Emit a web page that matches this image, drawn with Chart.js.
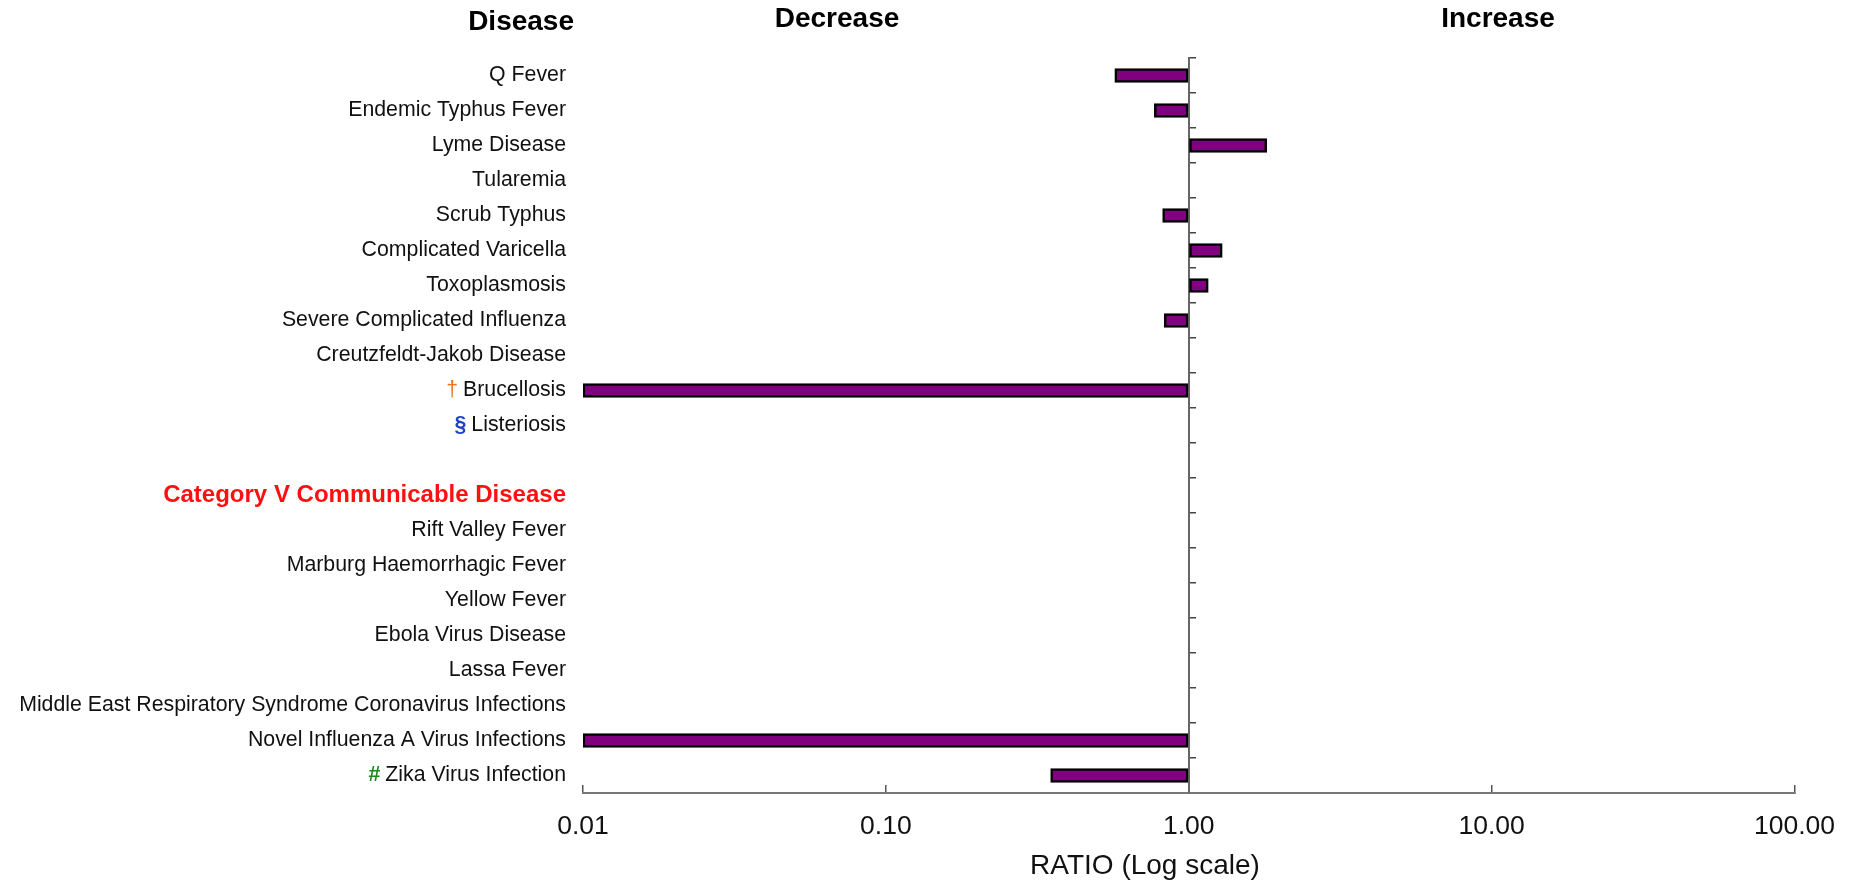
<!DOCTYPE html>
<html>
<head>
<meta charset="utf-8">
<title>Disease ratio (log scale)</title>
<script src="https://cdn.jsdelivr.net/npm/chart.js@4.4.1/dist/chart.umd.min.js"></script>
<style>
  html, body { margin: 0; padding: 0; background: #fff; }
  canvas { display: block; }
</style>
</head>
<body>
<canvas id="barChart" width="1861" height="890"></canvas>
<script>
'use strict';

// rows of the chart, top to bottom ('' is the blank spacer row)
var diseases = [
  'Q Fever',
  'Endemic Typhus Fever',
  'Lyme Disease',
  'Tularemia',
  'Scrub Typhus',
  'Complicated Varicella',
  'Toxoplasmosis',
  'Severe Complicated Influenza',
  'Creutzfeldt-Jakob Disease',
  'Brucellosis',
  'Listeriosis',
  '',
  'Category V Communicable Disease',
  'Rift Valley Fever',
  'Marburg Haemorrhagic Fever',
  'Yellow Fever',
  'Ebola Virus Disease',
  'Lassa Fever',
  'Middle East Respiratory Syndrome Coronavirus Infections',
  'Novel Influenza A Virus Infections',
  'Zika Virus Infection'
];

// footnote marks drawn in front of some labels
var footnotes = ['', '', '', '', '', '', '', '', '', '\u2020', '\u00a7', '', '', '', '', '', '', '', '', '', '#'];

// ratio values (null = no bar). bars start at 1.00
var ratios = [0.57, 0.77, 1.81, null, 0.82, 1.29, 1.16, 0.83, null, 0.01, null,
  null, null, null, null, null, null, null, null, 0.01, 0.35];

var ratioTicks = [0.01, 0.1, 1, 10, 100];

var headers = ['Disease', 'Decrease', 'Increase'];
var axisTitle = 'RATIO (Log scale)';
var groupHeader = 'Category V Communicable Disease';

var FONT = "'Liberation Sans', Arial, sans-serif";
var markStyles = {
  '\u2020': { color: '#e8761e', weight: '' },
  '\u00a7': { color: '#1f44c9', weight: 'bold ' },
  '#': { color: '#1b8a1b', weight: 'bold ' }
};
var labelPadding = 17;
var labelSize = 21.3;

Chart.defaults.font.family = FONT;
Chart.defaults.color = '#111';

var textPlugin = {
  id: 'textPlugin',
  afterDraw: function (chart) {
    var ctx = chart.ctx;
    var y = chart.scales.y;
    var labelRight = y.right - labelPadding;

    ctx.save();
    ctx.fillStyle = '#000';
    ctx.textBaseline = 'middle';
    ctx.font = 'bold 28px ' + FONT;
    ctx.textAlign = 'right';
    ctx.fillText(headers[0], 574, 22);
    ctx.textAlign = 'center';
    ctx.fillText(headers[1], 837, 19);
    ctx.fillText(headers[2], 1498, 19);

    ctx.fillStyle = '#111';
    ctx.font = '28px ' + FONT;
    ctx.fillText(axisTitle, 1145, 866);

    // the coloured marks in front of a few labels
    footnotes.forEach(function (mark, i) {
      if (!mark) return;
      ctx.font = labelSize + 'px ' + FONT;
      var w = ctx.measureText(diseases[i]).width;
      ctx.font = markStyles[mark].weight + labelSize + 'px ' + FONT;
      ctx.fillStyle = markStyles[mark].color;
      ctx.textAlign = 'right';
      ctx.fillText(mark, labelRight - w - 5, y.getPixelForTick(i));
    });
    ctx.restore();
  }
};

var ctx = document.getElementById('barChart');

var data = {
  labels: diseases,
  datasets: [
    {
      data: ratios,
      base: 1,
      backgroundColor: '#800080',
      borderColor: '#000',
      borderWidth: 2.5,
      borderSkipped: false,
      barThickness: 14
    }
  ]
};

var options = {
  indexAxis: 'y',
  responsive: false,
  animation: false,
  layout: { padding: { left: 10, right: 61, top: 58, bottom: 0 } },
  plugins: {
    legend: { display: false },
    tooltip: { enabled: false }
  },
  scales: {
    x: {
      type: 'logarithmic',
      min: 0.01,
      max: 100,
      afterBuildTicks: function (scale) {
        scale.ticks = ratioTicks.map(function (v) { return { value: v }; });
      },
      afterFit: function (scale) { scale.height = 97; },
      grid: { drawOnChartArea: false, tickLength: -8, color: '#555', lineWidth: 1.5 },
      border: { color: '#777', width: 2 },
      ticks: {
        padding: 26,
        autoSkip: false,
        maxRotation: 0,
        color: '#111',
        font: { size: 26.5 },
        callback: function (v) { return Number(v).toFixed(2); }
      }
    },
    y: {
      afterFit: function (scale) { scale.width = 573; },
      grid: { display: false, drawTicks: false },
      border: { display: false },
      ticks: {
        padding: labelPadding,
        autoSkip: false,
        color: function (c) { return diseases[c.index] === groupHeader ? '#ff1010' : '#111'; },
        font: function (c) {
          return diseases[c.index] === groupHeader ? { size: 24, weight: 'bold' } : { size: labelSize };
        }
      }
    },
    // the vertical line at 1.00 with its small ticks
    y2: {
      type: 'category',
      position: { x: 1 },
      offset: true,
      grid: { offset: true, drawOnChartArea: false, tickLength: -8, color: '#444', lineWidth: 1.5 },
      border: { color: '#666', width: 2 },
      ticks: { display: false }
    }
  }
};

var myBarChart = new Chart(ctx, {
  type: 'bar',
  data: data,
  options: options,
  plugins: [textPlugin]
});
</script>
</body>
</html>
